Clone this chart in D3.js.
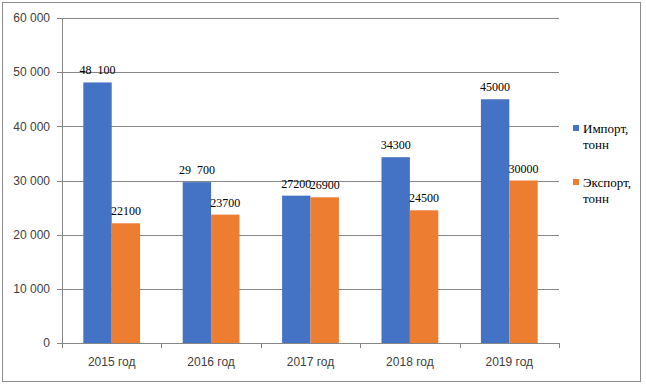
<!DOCTYPE html>
<html lang="ru">
<head>
  <meta charset="UTF-8">
  <title>Импорт и экспорт</title>
  <script src="https://d3js.org/d3.v7.min.js"></script>
  <style>
    body { margin: 0; background: #fff; }
  </style>
</head>
<body>
  <svg width="646" height="387"></svg>
  <script>
    const years = ["2015 год", "2016 год", "2017 год", "2018 год", "2019 год"];
    const importValues = [48100, 29700, 27200, 34300, 45000];
    const exportValues = [22100, 23700, 26900, 24500, 30000];
    const importLabels = ["48  100", "29  700", "27200", "34300", "45000"];
    const exportLabels = ["22100", "23700", "26900", "24500", "30000"];
    const yTicks = [0, 10000, 20000, 30000, 40000, 50000, 60000];
    const seriesNames = [["Импорт,", "тонн"], ["Экспорт,", "тонн"]];
    const colors = ["#4472C4", "#ED7D31"];

    const sansFont = "'Liberation Sans', Arial, sans-serif";
    const serifFont = "'Liberation Serif', 'Times New Roman', 'DejaVu Serif', serif";

    const svg = d3.select("svg");

    // outer frame
    svg.append("rect")
        .attr("x", 2.5).attr("y", 2.5)
        .attr("width", 638).attr("height", 379)
        .attr("fill", "#fff")
        .attr("stroke", "#8c8c8c");

    const plotLeft = 62, plotRight = 559, plotTop = 18, plotBottom = 343;

    const x = d3.scaleBand().domain(years).range([plotLeft, plotRight]);
    const y = d3.scaleLinear().domain([0, 60000]).range([plotBottom, plotTop]);

    // gridlines
    svg.append("g")
      .selectAll("line")
      .data(yTicks.slice(1))
      .enter().append("line")
        .attr("x1", plotLeft).attr("x2", plotRight)
        .attr("y1", d => Math.round(y(d)) + 0.5)
        .attr("y2", d => Math.round(y(d)) + 0.5)
        .attr("stroke", "#868686");

    // y labels
    const fmt = d => d3.format(",")(d).replace(/,/g, " ");
    svg.append("g")
      .selectAll("text")
      .data(yTicks)
      .enter().append("text")
        .attr("font-family", sansFont)
        .attr("font-size", 12)
        .attr("fill", "#404040")
        .attr("x", 50)
        .attr("y", d => y(d))
        .attr("dy", "0.35em")
        .attr("text-anchor", "end")
        .text(fmt);

    // axes
    svg.append("line")
        .attr("x1", plotLeft - 5).attr("x2", plotRight)
        .attr("y1", plotBottom + 0.5).attr("y2", plotBottom + 0.5)
        .attr("stroke", "#868686");
    svg.append("line")
        .attr("x1", plotLeft + 0.5).attr("x2", plotLeft + 0.5)
        .attr("y1", plotTop).attr("y2", plotBottom)
        .attr("stroke", "#868686");
    yTicks.forEach(t => {
      svg.append("line")
          .attr("x1", plotLeft - 5).attr("x2", plotLeft)
          .attr("y1", Math.round(y(t)) + 0.5).attr("y2", Math.round(y(t)) + 0.5)
          .attr("stroke", "#868686");
    });

    // x ticks
    const bounds = years.map(d => x(d)).concat([plotRight]);
    svg.append("g")
      .selectAll("line")
      .data(bounds)
      .enter().append("line")
        .attr("x1", d => Math.round(d) + 0.5).attr("x2", d => Math.round(d) + 0.5)
        .attr("y1", plotBottom).attr("y2", plotBottom + 5)
        .attr("stroke", "#868686");

    svg.append("g")
      .selectAll("text")
      .data(years)
      .enter().append("text")
        .attr("font-family", sansFont)
        .attr("font-size", 12)
        .attr("fill", "#404040")
        .attr("x", d => x(d) + x.bandwidth() / 2)
        .attr("y", 366)
        .attr("text-anchor", "middle")
        .text(d => d);

    // bars
    const inner = d3.scaleBand().domain([0, 1])
        .range([0, x.bandwidth()])
        .paddingOuter(0.75).paddingInner(0);

    const series = [importValues, exportValues];
    const labels = [importLabels, exportLabels];
    series.forEach((vals, s) => {
      svg.append("g")
        .selectAll("rect")
        .data(vals)
        .enter().append("rect")
          .attr("x", (d, i) => x(years[i]) + inner(s))
          .attr("y", d => y(d))
          .attr("width", inner.bandwidth())
          .attr("height", d => plotBottom - y(d))
          .attr("fill", colors[s]);

      svg.append("g")
        .selectAll("text")
        .data(vals)
        .enter().append("text")
          .attr("font-family", serifFont)
          .attr("font-size", 12)
          .attr("fill", "#000")
          .attr("x", (d, i) => x(years[i]) + inner(s) + inner.bandwidth() / 2)
          .attr("y", d => y(d) - 8)
          .attr("text-anchor", "middle")
          .style("white-space", "pre")
          .text((d, i) => labels[s][i]);
    });

    // legend
    const legend = svg.append("g");
    seriesNames.forEach((lines, s) => {
      const ly = 129 + s * 54;
      legend.append("rect")
          .attr("x", 573).attr("y", ly - 4)
          .attr("width", 6).attr("height", 6)
          .attr("fill", colors[s]);
      lines.forEach((t, k) => {
        legend.append("text")
            .attr("font-family", serifFont)
            .attr("font-size", 13)
            .attr("fill", "#000")
            .attr("x", 583)
            .attr("y", ly + 4 + k * 16)
            .text(t);
      });
    });
  </script>
</body>
</html>
